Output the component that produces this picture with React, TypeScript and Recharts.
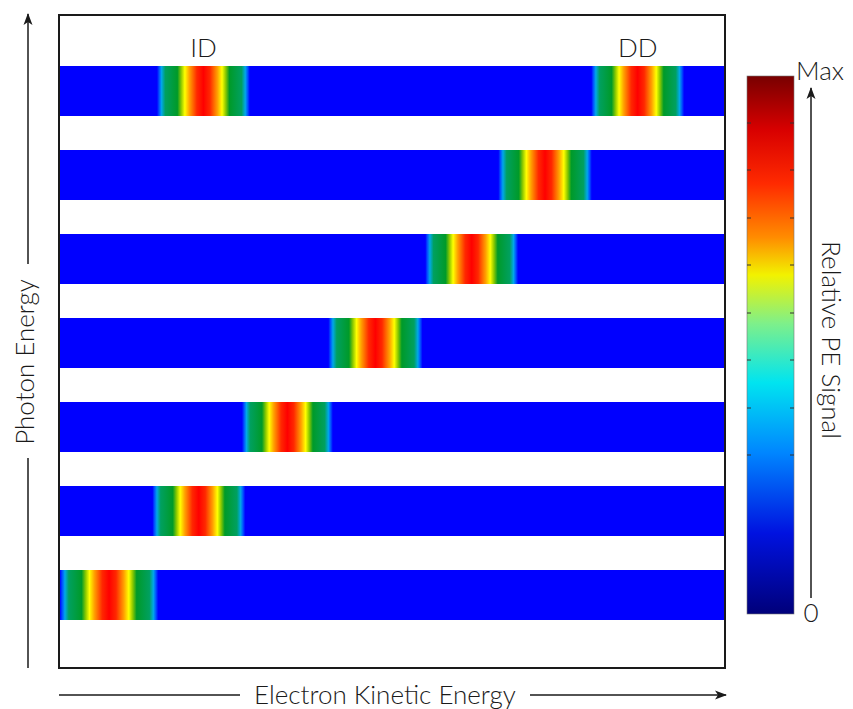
import React from "react";
import { BarChart, Bar, XAxis, YAxis, LabelList } from "recharts";

// rows from top (highest photon energy) to bottom
const rows = ["7", "6", "5", "4", "3", "2", "1"];
const bandRange = [0, 100];
const firstPeak: [number, number][] = [
  [14.6, 28.6],
  [66, 80.1],
  [55, 69],
  [40.4, 54.6],
  [27.4, 41.1],
  [13.9, 27.9],
  [0, 14.8],
];
const secondPeak: ([number, number] | null)[] = [[80, 94], null, null, null, null, null, null];
const firstLabels = ["ID", "", "", "", "", "", ""];
const secondLabels = ["DD", "", "", "", "", "", ""];
const barTicks = [123, 170, 218, 265, 313, 360, 408, 455];

const data = rows.map((row, i) => ({
  row,
  band: bandRange,
  peakA: firstPeak[i],
  peakB: secondPeak[i],
  labelA: firstLabels[i],
  labelB: secondLabels[i],
}));

const font = "Lato, 'Open Sans', sans-serif";
const ink = "#1a1a1a";
const fs = 26;

function Overlay() {
  return (
    <svg
      width={853}
      height={709}
      style={{ position: "absolute", left: 0, top: 0, pointerEvents: "none" }}
    >
      <defs>
        <linearGradient id="cbar" x1="0" y1="0" x2="0" y2="1">
          <stop offset="0" stopColor="#780000" />
          <stop offset="0.1" stopColor="#d80000" />
          <stop offset="0.2" stopColor="#ff2a00" />
          <stop offset="0.3" stopColor="#ff8c00" />
          <stop offset="0.37" stopColor="#f2f200" />
          <stop offset="0.46" stopColor="#7ef08a" />
          <stop offset="0.57" stopColor="#00e4f0" />
          <stop offset="0.7" stopColor="#0086ff" />
          <stop offset="0.85" stopColor="#0012e0" />
          <stop offset="1" stopColor="#00007a" />
        </linearGradient>
        <marker id="arrow" markerWidth="12" markerHeight="10" refX="11" refY="5" orient="auto" markerUnits="userSpaceOnUse">
          <path d="M0,0.5 L12,5 L0,9.5 L3,5 Z" fill={ink} />
        </marker>
      </defs>

      {/* plot frame */}
      <rect x={59} y={15} width={666} height={653} fill="none" stroke={ink} strokeWidth={2} />

      {/* colour bar */}
      <rect x={747} y={76} width={47} height={538} fill="url(#cbar)" stroke="#777" strokeWidth={0.6} />
      {barTicks.map((t) => (
        <g key={t}>
          <line x1={747} x2={751} y1={t} y2={t} stroke="#333" strokeWidth={1} />
          <line x1={790} x2={794} y1={t} y2={t} stroke="#333" strokeWidth={1} />
        </g>
      ))}
      <line x1={811} y1={598} x2={811} y2={88} stroke={ink} strokeWidth={1.5} markerEnd="url(#arrow)" />
      <text x={820} y={80} textAnchor="middle" fontFamily={font} fontWeight={300} fontSize={fs} fill={ink}>
        Max
      </text>
      <text x={811} y={622} textAnchor="middle" fontFamily={font} fontWeight={300} fontSize={fs} fill={ink}>
        0
      </text>
      <text
        transform="translate(832,340) rotate(90)"
        textAnchor="middle"
        dominantBaseline="central"
        fontFamily={font}
        fontWeight={300}
        fontSize={fs}
        fill={ink}
      >
        Relative PE Signal
      </text>

      {/* y direction */}
      <line x1={28} y1={668} x2={28} y2={458} stroke={ink} strokeWidth={1.5} />
      <line x1={28} y1={264} x2={28} y2={14} stroke={ink} strokeWidth={1.5} markerEnd="url(#arrow)" />
      <text
        transform="translate(24,362) rotate(-90)"
        textAnchor="middle"
        dominantBaseline="central"
        fontFamily={font}
        fontWeight={300}
        fontSize={fs}
        fill={ink}
      >
        Photon Energy
      </text>

      {/* x direction */}
      <line x1={59} y1={695} x2={240} y2={695} stroke={ink} strokeWidth={1.5} />
      <line x1={530} y1={695} x2={726} y2={695} stroke={ink} strokeWidth={1.5} markerEnd="url(#arrow)" />
      <text x={385} y={704} textAnchor="middle" fontFamily={font} fontWeight={300} fontSize={fs} fill={ink}>
        Electron Kinetic Energy
      </text>
    </svg>
  );
}

export default function App() {
  const labelStyle = { fontFamily: font, fontWeight: 300, fontSize: fs };
  return (
    <div style={{ position: "absolute", left: 0, top: 0, width: 853, height: 709, background: "#fff" }}>
      <BarChart
        width={853}
        height={709}
        data={data}
        layout="vertical"
        margin={{ top: 49, right: 129, bottom: 72, left: 60 }}
        barSize={50}
      >
        <defs>
          <linearGradient id="peak" x1="0" y1="0" x2="1" y2="0">
            <stop offset="0" stopColor="#0000ff" />
            <stop offset="0.025" stopColor="#0058ff" />
            <stop offset="0.05" stopColor="#00a8e8" />
            <stop offset="0.09" stopColor="#00a060" />
            <stop offset="0.22" stopColor="#009a28" />
            <stop offset="0.26" stopColor="#8ac800" />
            <stop offset="0.3" stopColor="#ffff00" />
            <stop offset="0.35" stopColor="#ffa000" />
            <stop offset="0.43" stopColor="#ff2800" />
            <stop offset="0.5" stopColor="#ff0000" />
            <stop offset="0.57" stopColor="#ff2800" />
            <stop offset="0.65" stopColor="#ffa000" />
            <stop offset="0.7" stopColor="#ffff00" />
            <stop offset="0.74" stopColor="#8ac800" />
            <stop offset="0.78" stopColor="#009a28" />
            <stop offset="0.91" stopColor="#00a060" />
            <stop offset="0.95" stopColor="#00a8e8" />
            <stop offset="0.975" stopColor="#0058ff" />
            <stop offset="1" stopColor="#0000ff" />
          </linearGradient>
        </defs>
        <XAxis type="number" domain={[0, 100]} hide allowDataOverflow />
        <YAxis yAxisId="band" type="category" dataKey="row" hide />
        <YAxis yAxisId="a" type="category" dataKey="row" hide />
        <YAxis yAxisId="b" type="category" dataKey="row" hide />
        <Bar yAxisId="band" dataKey="band" fill="#0000ff" isAnimationActive={false} />
        <Bar yAxisId="a" dataKey="peakA" fill="url(#peak)" isAnimationActive={false}>
          <LabelList dataKey="labelA" position="top" offset={9} fill={ink} style={labelStyle} />
        </Bar>
        <Bar yAxisId="b" dataKey="peakB" fill="url(#peak)" isAnimationActive={false}>
          <LabelList dataKey="labelB" position="top" offset={9} fill={ink} style={labelStyle} />
        </Bar>
      </BarChart>
      <Overlay />
    </div>
  );
}
